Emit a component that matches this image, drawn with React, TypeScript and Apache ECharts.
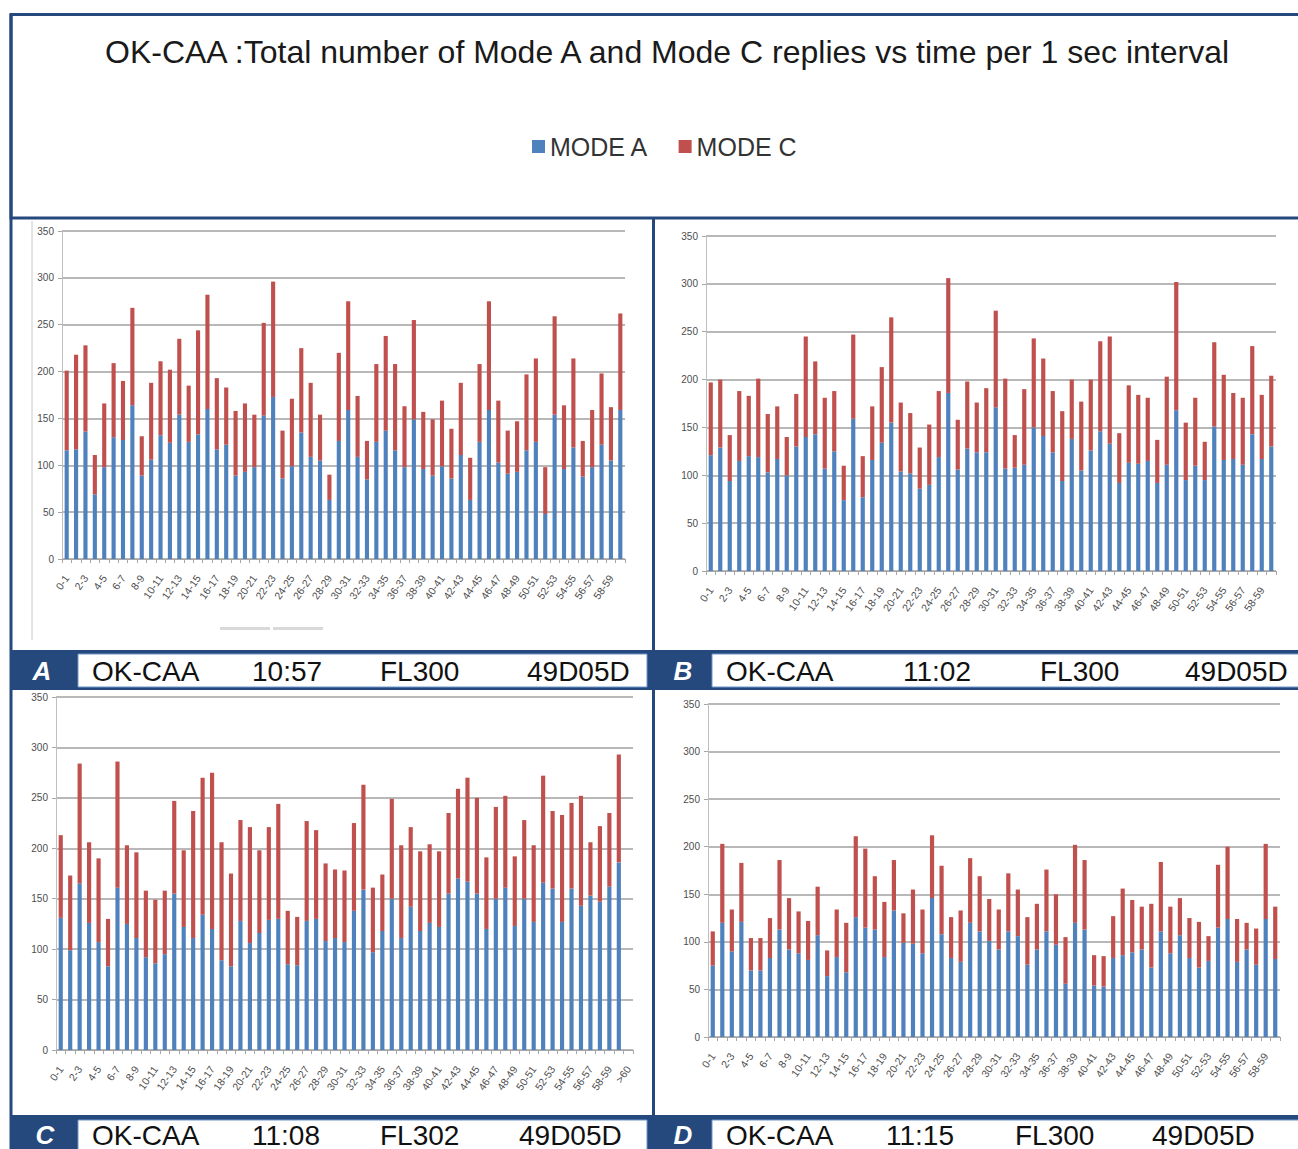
import React, { useEffect, useRef } from "react";
import * as echarts from "echarts";

// ---------- categories / tick labels ----------
const CATS_60: string[] = Array.from({ length: 60 }, (_, i) => `${i}-${i + 1}`);
const CATS_61: string[] = [...CATS_60, ">60"];
const Y_TICKS = [0, 50, 100, 150, 200, 250, 300, 350];

// ---------- Panel A (10:57) ----------
const A_MODE_A = [116,117,136,69,98,130,127,164,89,106,132,124,154,125,133,160,117,122,89,93,98,153,173,86,99,135,109,105,63,126,
  159,109,85,125,137,116,98,149,96,89,99,86,111,63,125,159,103,91,93,116,125,48,154,96,119,88,98,122,105,159];
const A_MODE_C = [85,101,92,42,68,79,63,104,42,82,79,78,81,60,111,122,76,61,69,73,56,99,123,51,72,90,79,49,27,94,
  116,65,41,83,101,92,65,106,61,60,70,53,77,45,83,116,66,46,54,81,89,50,105,68,95,38,61,76,57,103];

// ---------- Panel B (11:02) ----------
const B_MODE_A = [121,129,94,115,120,119,103,117,100,130,140,143,107,125,74,159,77,116,134,155,104,102,86,90,119,186,106,128,124,124,
  171,107,108,111,150,141,124,94,138,105,126,146,133,92,113,112,115,92,111,168,95,110,95,151,116,117,111,143,117,130];
const B_MODE_C = [76,71,48,73,63,82,61,55,40,55,105,76,74,63,36,88,43,56,79,110,72,63,43,63,69,120,52,70,52,67,
  101,94,34,79,93,81,64,73,62,72,74,94,112,52,81,72,66,45,92,134,60,71,40,88,89,69,70,92,67,74];

// ---------- Panel C (11:08) ----------
const C_MODE_A = [131,99,165,126,107,83,161,125,111,92,86,95,155,122,111,134,120,89,83,128,106,116,129,130,85,84,128,130,108,111,
  107,138,159,97,118,150,111,142,118,126,122,155,170,167,155,120,150,161,123,150,127,166,160,127,160,143,153,147,162,186,0];
const C_MODE_C = [82,74,119,80,83,47,125,78,85,66,63,63,92,76,126,136,155,117,92,100,115,82,92,114,53,48,99,88,77,68,
  71,87,104,64,56,99,92,79,79,78,75,80,89,103,95,71,91,91,69,78,76,106,77,106,85,109,53,75,73,107,0];

// ---------- Panel D (11:15) ----------
const D_MODE_A = [75,120,90,121,70,70,83,113,92,88,81,107,64,84,68,126,115,113,84,133,99,98,88,146,108,83,79,120,111,101,
  92,111,106,76,92,111,97,56,120,113,54,53,83,86,89,92,73,111,88,107,83,73,80,115,124,79,92,76,124,82];
const D_MODE_C = [36,83,44,62,34,34,42,73,54,44,41,51,27,50,52,85,83,56,58,53,31,57,46,66,72,43,54,68,58,44,
  42,61,49,50,48,65,53,49,82,73,32,32,44,70,55,45,67,73,49,39,42,48,26,66,76,45,28,38,79,55];

// ---------- panel captions ----------
const PANEL_LETTERS = ["A", "B", "C", "D"];
const PANEL_REG = ["OK-CAA", "OK-CAA", "OK-CAA", "OK-CAA"];
const PANEL_TIME = ["10:57", "11:02", "11:08", "11:15"];
const PANEL_FL = ["FL300", "FL300", "FL302", "FL300"];
const PANEL_CODE = ["49D05D", "49D05D", "49D05D", "49D05D"];

const TITLE = "OK-CAA :Total number of Mode A and Mode C replies vs time per 1 sec interval";
const SERIES_NAMES = ["MODE A", "MODE C"];

// ---------- layout / style (not data) ----------
const BLUE = "#4F81BD";
const RED = "#C0504D";
const NAVY = "#25487d";
const FONT = "Liberation Sans, Arial, sans-serif";

const PANELS = [
  { cats: CATS_60, a: A_MODE_A, c: A_MODE_C, grid: { left: 62, top: 231, width: 563, height: 328 } },
  { cats: CATS_60, a: B_MODE_A, c: B_MODE_C, grid: { left: 706, top: 236, width: 570, height: 335 } },
  { cats: CATS_61, a: C_MODE_A, c: C_MODE_C, grid: { left: 56, top: 697, width: 577, height: 353 } },
  { cats: CATS_60, a: D_MODE_A, c: D_MODE_C, grid: { left: 708, top: 704, width: 572, height: 333 } },
];

// caption text x positions per panel, row centre y
const CAPTION_POS = [
  { letter: 42, reg: 92, time: 252, fl: 380, code: 527, y: 671 },
  { letter: 683, reg: 726, time: 903, fl: 1040, code: 1185, y: 671 },
  { letter: 45, reg: 92, time: 252, fl: 380, code: 519, y: 1135 },
  { letter: 683, reg: 726, time: 886, fl: 1015, code: 1152, y: 1135 },
];

export default function App() {
  const ref = useRef<HTMLDivElement>(null);

  useEffect(() => {
    document.body.style.margin = "0";
    if (!ref.current) return;
    const chart = echarts.init(ref.current, undefined, { renderer: "svg" });

    const grids: any[] = [];
    const xAxes: any[] = [];
    const yAxes: any[] = [];
    const series: any[] = [];

    PANELS.forEach((p, i) => {
      grids.push({ ...p.grid, containLabel: false });
      xAxes.push({
        type: "category",
        gridIndex: i,
        data: p.cats,
        axisLine: { show: true, lineStyle: { color: "#a6a6a6", width: 1 } },
        axisTick: { show: true, interval: 0, length: 4, lineStyle: { color: "#a6a6a6" } },
        axisLabel: {
          interval: 1,
          rotate: 55,
          fontSize: 10.5,
          color: "#4d4d4d",
          margin: 17,
          fontFamily: FONT,
        },
        splitLine: { show: false },
      });
      yAxes.push({
        type: "value",
        gridIndex: i,
        min: Y_TICKS[0],
        max: Y_TICKS[Y_TICKS.length - 1],
        interval: 50,
        axisLine: { show: true, lineStyle: { color: "#bfbfbf", width: 1 } },
        axisTick: { show: true, length: 4, lineStyle: { color: "#a6a6a6" } },
        axisLabel: {
          fontSize: 10,
          color: "#4d4d4d",
          margin: 8,
          fontFamily: "Liberation Sans Narrow, Liberation Sans, Arial",
        },
        splitLine: { show: true, lineStyle: { color: "#a0a0a0", width: 1.5 } },
      });
      series.push({
        name: SERIES_NAMES[0],
        type: "bar",
        stack: "s" + i,
        xAxisIndex: i,
        yAxisIndex: i,
        data: p.a,
        barWidth: "44%",
        itemStyle: { color: BLUE },
      });
      series.push({
        name: SERIES_NAMES[1],
        type: "bar",
        stack: "s" + i,
        xAxisIndex: i,
        yAxisIndex: i,
        data: p.c,
        barWidth: "44%",
        itemStyle: { color: RED },
      });
    });

    const graphics: any[] = [
      // header frame
      { type: "rect", shape: { x: 11, y: 14.5, width: 1300, height: 203.5 }, style: { fill: "none", stroke: NAVY, lineWidth: 3 } },
      // left border, middle divider
      { type: "line", shape: { x1: 11, y1: 14, x2: 11, y2: 1149 }, style: { stroke: NAVY, lineWidth: 3 } },
      { type: "line", shape: { x1: 653.5, y1: 218, x2: 653.5, y2: 1149 }, style: { stroke: NAVY, lineWidth: 3 } },
      // caption bands
      { type: "rect", shape: { x: 11, y: 650, width: 1290, height: 40 }, style: { fill: NAVY } },
      { type: "rect", shape: { x: 11, y: 1115, width: 1290, height: 40 }, style: { fill: NAVY } },
      { type: "rect", shape: { x: 78, y: 654, width: 569, height: 33 }, style: { fill: "#fff", stroke: "#6f95cc", lineWidth: 1 } },
      { type: "rect", shape: { x: 712, y: 654, width: 590, height: 33 }, style: { fill: "#fff", stroke: "#6f95cc", lineWidth: 1 } },
      { type: "rect", shape: { x: 78, y: 1120, width: 569, height: 40 }, style: { fill: "#fff", stroke: "#6f95cc", lineWidth: 1 } },
      { type: "rect", shape: { x: 712, y: 1120, width: 590, height: 40 }, style: { fill: "#fff", stroke: "#6f95cc", lineWidth: 1 } },
      // faint chart frame line and scrollbar remnants in panel A
      { type: "line", shape: { x1: 32, y1: 221, x2: 32, y2: 640 }, style: { stroke: "#c8c8c8", lineWidth: 1 } },
      { type: "rect", shape: { x: 220, y: 627, width: 50, height: 3 }, style: { fill: "#d9d9d9" } },
      { type: "rect", shape: { x: 273, y: 627, width: 50, height: 3 }, style: { fill: "#d9d9d9" } },
    ];

    CAPTION_POS.forEach((c, i) => {
      graphics.push({
        type: "text",
        x: c.letter,
        y: c.y,
        style: {
          text: PANEL_LETTERS[i],
          fill: "#fff",
          font: `italic bold 26px ${FONT}`,
          textAlign: "center",
          textVerticalAlign: "middle",
        },
      });
      const parts = [
        [PANEL_REG[i], c.reg],
        [PANEL_TIME[i], c.time],
        [PANEL_FL[i], c.fl],
        [PANEL_CODE[i], c.code],
      ];
      parts.forEach(([t, x]) => {
        graphics.push({
          type: "text",
          x: x as number,
          y: c.y,
          style: {
            text: t as string,
            fill: "#111",
            font: `28px ${FONT}`,
            textAlign: "left",
            textVerticalAlign: "middle",
          },
        });
      });
    });

    chart.setOption({
      animation: false,
      backgroundColor: "#fff",
      title: {
        text: TITLE,
        left: 100,
        top: 31,
        textStyle: { fontSize: 32, fontWeight: "normal", color: "#1a1a1a", fontFamily: FONT },
      },
      legend: {
        data: SERIES_NAMES,
        left: 527,
        top: 129,
        icon: "rect",
        itemWidth: 13,
        itemHeight: 13,
        itemGap: 30,
        textStyle: { fontSize: 25, color: "#333", fontFamily: FONT },
      },
      grid: grids,
      xAxis: xAxes,
      yAxis: yAxes,
      series,
      graphic: graphics,
    });

    return () => chart.dispose();
  }, []);

  return <div ref={ref} style={{ width: 1298, height: 1149 }} />;
}
